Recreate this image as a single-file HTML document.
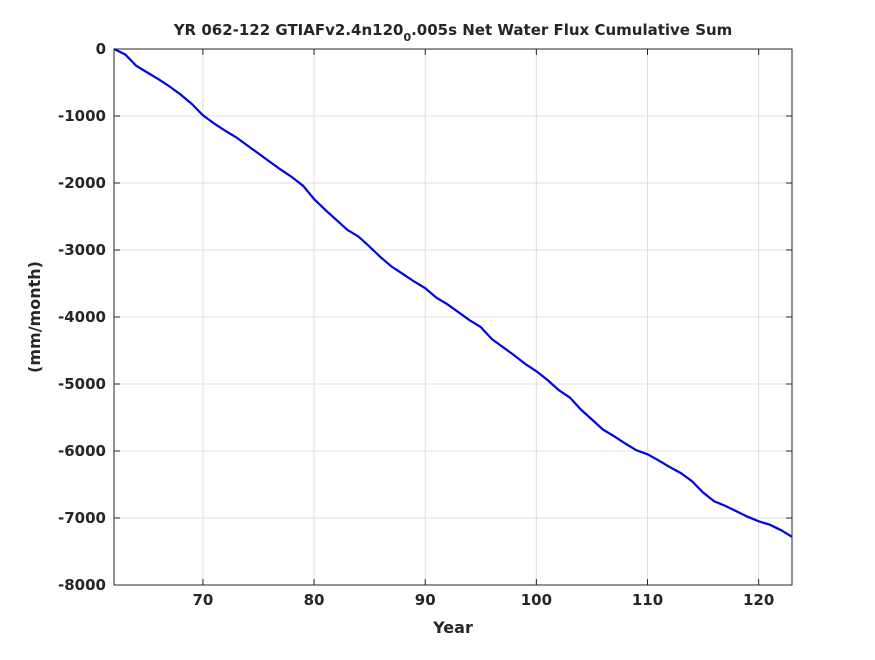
<!DOCTYPE html>
<html><head><meta charset="utf-8"><style>
body{margin:0;background:#fff;font-family:"DejaVu Sans","Liberation Sans",sans-serif;}
svg text{font-family:"DejaVu Sans","Liberation Sans",sans-serif;font-weight:bold;fill:#262626;}
</style></head><body>
<svg id="chart" width="875" height="656" xmlns="http://www.w3.org/2000/svg">
<rect x="0" y="0" width="875" height="656" fill="#fff"/>
<text x="453" y="35" font-size="15" text-anchor="middle" fill="#000">YR 062-122 GTIAFv2.4n120<tspan dy="6" font-size="11">0</tspan><tspan dy="-6">.005s Net Water Flux Cumulative Sum</tspan></text>
<g id="grid"></g>
<g id="ticks"></g>
<path id="series" fill="none" stroke="#0000ee" stroke-width="2.2"/>
<rect x="114" y="49" width="678" height="536" fill="none" stroke="#262626" stroke-width="1"/>
<text x="453" y="633" font-size="16" text-anchor="middle">Year</text>
<text transform="translate(40,317) rotate(-90)" font-size="16" text-anchor="middle">(mm/month)</text>
</svg>
<script>
const years=[62,63,64,65,66,67,68,69,70,71,72,73,74,75,76,77,78,79,80,81,82,83,84,85,86,87,88,89,90,91,92,93,94,95,96,97,98,99,100,101,102,103,104,105,106,107,108,109,110,111,112,113,114,115,116,117,118,119,120,121,122,123];
const values=[0,-80,-250,-350,-450,-560,-680,-820,-990,-1110,-1220,-1320,-1440,-1560,-1680,-1800,-1910,-2040,-2240,-2400,-2550,-2700,-2800,-2950,-3110,-3250,-3360,-3470,-3570,-3710,-3810,-3930,-4050,-4150,-4330,-4450,-4570,-4700,-4810,-4940,-5090,-5200,-5380,-5530,-5680,-5780,-5890,-5990,-6050,-6140,-6240,-6330,-6450,-6620,-6750,-6820,-6900,-6980,-7050,-7100,-7180,-7280];
const xTicks=[70,80,90,100,110,120];
const yTicks=[0,-1000,-2000,-3000,-4000,-5000,-6000,-7000,-8000];
const X0=114,X1=792,Y0=49,Y1=585;
const xs=v=>X0+(v-62)/(123-62)*(X1-X0);
const ys=v=>Y0+(0-v)/8000*(Y1-Y0);
const NS="http://www.w3.org/2000/svg";
const grid=document.getElementById('grid'),ticks=document.getElementById('ticks');
function mk(t,a,p){const e=document.createElementNS(NS,t);for(const k in a)e.setAttribute(k,a[k]);p.appendChild(e);return e;}
xTicks.forEach(v=>{const x=xs(v);
const g=mk('line',{x1:x,x2:x,y1:Y0,y2:Y1,stroke:'#dfdfdf','stroke-width':1},grid);


mk('line',{x1:x,x2:x,y1:Y1,y2:Y1-6,stroke:'#262626'},ticks);
mk('line',{x1:x,x2:x,y1:Y0,y2:Y0+6,stroke:'#262626'},ticks);
const t=mk('text',{x:x,y:Y1+20,'font-size':15,'text-anchor':'middle'},ticks);t.textContent=v;

});
yTicks.forEach(v=>{const y=ys(v);
const g=mk('line',{x1:X0,x2:X1,y1:y,y2:y,stroke:'#dfdfdf','stroke-width':1},grid);


mk('line',{x1:X0,x2:X0+6,y1:y,y2:y,stroke:'#262626'},ticks);
mk('line',{x1:X1,x2:X1-6,y1:y,y2:y,stroke:'#262626'},ticks);
const t=mk('text',{x:X0-8,y:y+5,'font-size':15,'text-anchor':'end'},ticks);t.textContent=v;

});
document.getElementById('series').setAttribute('d',years.map((yr,i)=>(i?'L':'M')+xs(yr).toFixed(1)+','+ys(values[i]).toFixed(1)).join(''));
</script>
</body></html>
